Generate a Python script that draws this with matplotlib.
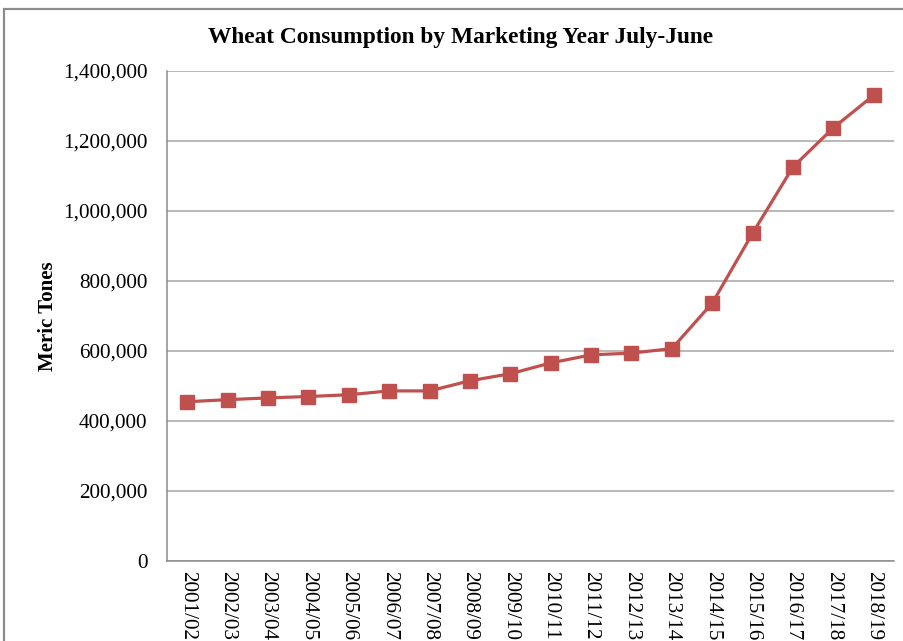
import matplotlib.pyplot as plt
from matplotlib.patches import Rectangle
from matplotlib.ticker import FuncFormatter

years = ['2001/02', '2002/03', '2003/04', '2004/05', '2005/06', '2006/07',
         '2007/08', '2008/09', '2009/10', '2010/11', '2011/12', '2012/13',
         '2013/14', '2014/15', '2015/16', '2016/17', '2017/18', '2018/19']
consumption = [455000, 461000, 466000, 470000, 475000, 486000,
               486000, 515000, 535000, 566000, 589000, 594000,
               607000, 737000, 937000, 1126000, 1238000, 1331000]

plt.rcParams['font.family'] = ['Liberation Serif', 'DejaVu Serif']

fig = plt.figure(figsize=(9.04, 6.41), dpi=100)
ax = fig.add_axes([0.1847, 0.1248, 0.989 - 0.1847, 0.8892 - 0.1248])

# outer chart frame (runs off the right and bottom edges)
fig.patches.append(Rectangle((4 / 904, -0.05), 1.2, 1 - 9 / 641 + 0.05,
                             transform=fig.transFigure, fill=False,
                             edgecolor='#8c8c8c', linewidth=1.6))

x = range(len(years))
ax.plot(x, consumption, color='#C0504D', linewidth=2.3, marker='s',
        markersize=10.5, markerfacecolor='#C0504D', markeredgecolor='#C0504D')

ax.set_xlim(-0.5, len(years) - 0.5)
ax.set_ylim(0, 1400000)
ax.set_yticks(range(0, 1400001, 200000))
ax.yaxis.set_major_formatter(FuncFormatter(lambda v, p: f'{int(v):,}'))
ax.set_xticks(list(x))
ax.set_xticklabels(years, rotation=-90, va='top', ha='center')
ax.tick_params(axis='both', length=0, labelsize=15.3, colors='black')
ax.tick_params(axis='y', pad=14)
ax.tick_params(axis='x', pad=7)

ax.grid(axis='y', color='#a6a6a6', linewidth=1.1)
ax.set_axisbelow(True)
for side in ['top', 'right']:
    ax.spines[side].set_visible(False)
for side in ['left', 'bottom']:
    ax.spines[side].set_color('#8c8c8c')
    ax.spines[side].set_linewidth(1.1)

ax.set_ylabel('Meric Tones', fontsize=15, fontweight='bold')
ax.yaxis.set_label_coords(-0.150, 0.5)
fig.text(0.510, 1 - 38 / 641, 'Wheat Consumption by Marketing Year July-June',
         ha='center', va='center', fontsize=16.8, fontweight='bold')

fig.savefig('out.png', dpi=100)
